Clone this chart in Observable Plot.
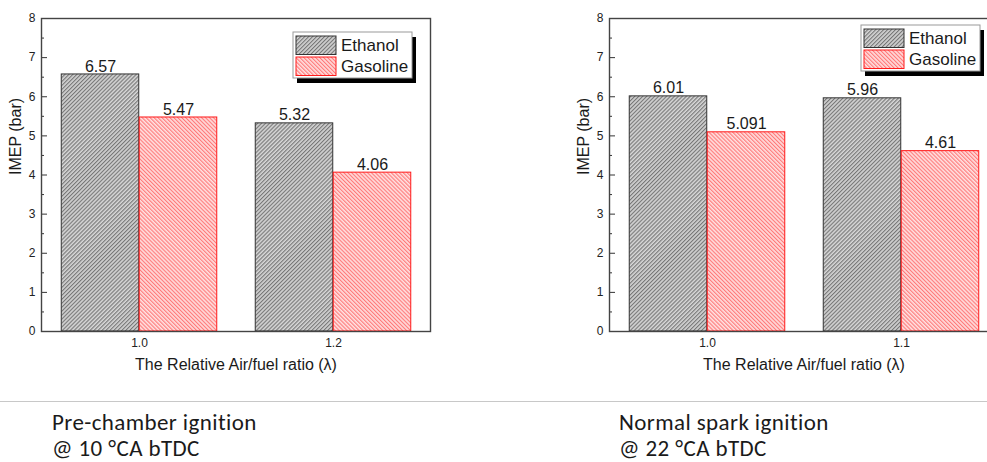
<!DOCTYPE html>
<html><head><meta charset="utf-8">
<script src="https://cdn.jsdelivr.net/npm/d3@7"></script>
<script src="https://cdn.jsdelivr.net/npm/@observablehq/plot@0.6"></script>
<style>
html,body{margin:0;padding:0;background:#fff;}
#wrap{position:relative;width:987px;height:462px;overflow:hidden;background:#fff;}
.panel{position:absolute;top:0;width:440px;height:386px;}
.panel svg{max-width:none !important;}
.rule{position:absolute;left:0;top:401px;width:987px;height:0;border-top:1.5px solid #c8c8c8;}
.cap{position:absolute;font-family:Carlito,"Liberation Sans Narrow","Open Sans",sans-serif;font-size:23px;letter-spacing:0.4px;line-height:26px;color:#1a1a1a;white-space:nowrap;}
</style></head><body>
<svg width="0" height="0" style="position:absolute">
<defs>
<pattern id="hatchE" patternUnits="userSpaceOnUse" width="2.8" height="2.8" patternTransform="rotate(45)">
<rect width="2.8" height="2.8" fill="#d6d6d6"/><line x1="0.6" y1="-1" x2="0.6" y2="4" stroke="#727272" stroke-width="1.1"/>
</pattern>
<pattern id="hatchG" patternUnits="userSpaceOnUse" width="2.8" height="2.8" patternTransform="rotate(-45)">
<rect width="2.8" height="2.8" fill="#ffe0e0"/><line x1="0.6" y1="-1" x2="0.6" y2="4" stroke="#ff7474" stroke-width="1.1"/>
</pattern>
</defs></svg>
<div id="wrap">
  <div id="p1" class="panel" style="left:0px"></div>
  <div id="p2" class="panel" style="left:568px"></div>
  <div class="rule"></div>
  <div class="cap" style="left:52px;top:409px">Pre-chamber ignition<br>@ 10 °CA bTDC</div>
  <div class="cap" style="left:619px;top:409px">Normal spark ignition<br>@ 22 °CA bTDC</div>
</div>
<script>
// ---- data ----
const fuels = ["Ethanol", "Gasoline"];
const lambdasPre = ["1.0", "1.2"];
const ethanolPre = [6.57, 5.32];
const gasolinePre = [5.47, 4.06];
const lambdasSpark = ["1.0", "1.1"];
const ethanolSpark = [6.01, 5.96];
const gasolineSpark = [5.091, 4.61];
const yTicks = [0, 1, 2, 3, 4, 5, 6, 7, 8];
const yMinorTicks = [0.5, 1.5, 2.5, 3.5, 4.5, 5.5, 6.5, 7.5];
const yLabel = "IMEP (bar)";
const xLabel = "The Relative Air/fuel ratio (λ)";

const fuelStyle = {
  Ethanol: {fill: "url(#hatchE)", stroke: "#333"},
  Gasoline: {fill: "url(#hatchG)", stroke: "#ff1a1a"}
};

function panel(lambdas, eth, gas, legendY) {
  const rows = lambdas.flatMap((l, i) => [
    {lambda: l, fuel: fuels[0], value: eth[i]},
    {lambda: l, fuel: fuels[1], value: gas[i]}
  ]);
  const W = 440, ML = 41, MR = 10, H = 386, MT = 18, MB = 55;
  const step = (W - ML - MR) / lambdas.length;
  const half = step / 2;
  const barW = 78;
  const gap = half - barW;
  const marks = [];
  fuels.forEach((f, k) => {
    const sub = rows.filter(d => d.fuel === f);
    marks.push(Plot.barY(sub, {
      x: "lambda", y: "value",
      fill: fuelStyle[f].fill, stroke: fuelStyle[f].stroke, strokeWidth: 1,
      insetLeft: k === 0 ? gap : half, insetRight: k === 0 ? half : gap
    }));
    marks.push(Plot.text(sub, {
      x: "lambda", y: "value", text: d => String(d.value),
      dx: k === 0 ? -barW / 2 : barW / 2, dy: -8,
      fontSize: 16, fill: "#1a1a1a"
    }));
  });
  marks.push(Plot.axisY({ticks: yTicks, tickSize: -6, tickPadding: 12, fontSize: 12, label: null, stroke: "#333", fill: "#222"}));
  marks.push(Plot.axisY({ticks: yMinorTicks, tickSize: -3, tickFormat: () => "", label: null, stroke: "#333"}));
  marks.push(Plot.axisX({tickSize: 0, tickPadding: 7, fontSize: 12, label: null, fill: "#222"}));
  marks.push(Plot.text([xLabel], {text: d => d, frameAnchor: "bottom", dy: 38, fontSize: 16, fill: "#1a1a1a"}));
  marks.push(Plot.text([yLabel], {text: d => d, frameAnchor: "left", dx: -26, rotate: -90, fontSize: 16, fill: "#1a1a1a"}));
  marks.push(Plot.frame({stroke: "#444", strokeWidth: 1.4}));

  const svg = Plot.plot({
    width: W, height: H,
    marginLeft: ML, marginRight: MR, marginTop: MT, marginBottom: MB,
    x: {type: "band", domain: lambdas, padding: 0},
    y: {domain: [0, 8]},
    style: {fontFamily: "'Liberation Sans', Arial, sans-serif", background: "transparent", overflow: "visible", maxWidth: "none"},
    marks
  });
  svg.style.maxWidth = "none";
  svg.style.width = W + "px";
  svg.style.height = H + "px";

  // legend box (Origin-style with drop shadow)
  const lx = 293, ly = legendY, lw = 119, lh = 46;
  const g = d3.select(svg).append("g").attr("text-anchor", "start");
  g.append("rect").attr("x", lx + 4).attr("y", ly + 5).attr("width", lw).attr("height", lh).attr("fill", "#000");
  g.append("rect").attr("x", lx).attr("y", ly).attr("width", lw).attr("height", lh)
    .attr("fill", "#fff").attr("stroke", "#9a9a9a").attr("stroke-width", 1);
  fuels.forEach((f, k) => {
    const sy = ly + 4 + k * 21;
    g.append("rect").attr("x", lx + 3).attr("y", sy).attr("width", 40).attr("height", 18.5)
      .attr("fill", fuelStyle[f].fill).attr("stroke", fuelStyle[f].stroke).attr("stroke-width", 1);
    g.append("text").attr("x", lx + 48).attr("y", sy + 9.5).attr("dy", "0.35em")
      .attr("text-anchor", "start")
      .attr("font-size", 17).attr("fill", "#1a1a1a")
      .attr("font-family", "'Liberation Sans', Arial, sans-serif").text(f);
  });
  return svg;
}

document.getElementById("p1").appendChild(panel(lambdasPre, ethanolPre, gasolinePre, 32));
document.getElementById("p2").appendChild(panel(lambdasSpark, ethanolSpark, gasolineSpark, 25));
</script>
</body></html>
